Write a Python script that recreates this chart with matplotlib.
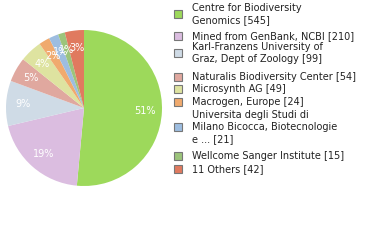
import matplotlib
matplotlib.use("Agg")
import matplotlib.pyplot as plt
from matplotlib.patches import Rectangle
import numpy as np

labels = ["Centre for Biodiversity\nGenomics [545]",
          "Mined from GenBank, NCBI [210]",
          "Karl-Franzens University of\nGraz, Dept of Zoology [99]",
          "Naturalis Biodiversity Center [54]",
          "Microsynth AG [49]",
          "Macrogen, Europe [24]",
          "Universita degli Studi di\nMilano Bicocca, Biotecnologie\ne ... [21]",
          "Wellcome Sanger Institute [15]",
          "11 Others [42]"]
values = [545, 210, 99, 54, 49, 24, 21, 15, 42]
colors = ["#9dd95b", "#dbbde0", "#cfdbe6", "#e0a89f", "#dee3a0",
          "#f0aa6e", "#9dbde0", "#9cc47b", "#e07a5f"]
pct_labels = ["51%", "19%", "9%", "5%", "4%", "2%", "1%", "1%", "3%"]
legend_y = [14, 36, 53, 77, 89, 102, 127, 156, 169]

W, H = 380, 240
fig = plt.figure(figsize=(W/100, H/100), dpi=100)
cx, cy, r = 84, 108, 78
ax = fig.add_axes([(cx-r)/W, (H-cy-r)/H, 2*r/W, 2*r/H])
ax.pie(values, colors=colors, startangle=90, counterclock=False,
       wedgeprops=dict(linewidth=0))
total = sum(values)
ang = 90.0
for v, lab in zip(values, pct_labels):
    span = v / total * 360
    mid = np.deg2rad(ang - span/2)
    ax.text(0.78*np.cos(mid), 0.78*np.sin(mid), lab, ha="center", va="center",
            color="white", fontsize=7)
    ang -= span
ax.set_xlim(-1, 1); ax.set_ylim(-1, 1)
ax.set_aspect("equal")
ax.axis("off")

for lab, c, y in zip(labels, colors, legend_y):
    fig.add_artist(Rectangle((174/W, (H-y-4)/H), 8/W, 8/H, facecolor=c,
                             edgecolor="#777777", linewidth=0.8,
                             transform=fig.transFigure))
    fig.text(192/W, (H-y)/H, lab, fontsize=7, va="center", ha="left",
             color="#222222", linespacing=1.3)

fig.savefig("out.png", dpi=100)
